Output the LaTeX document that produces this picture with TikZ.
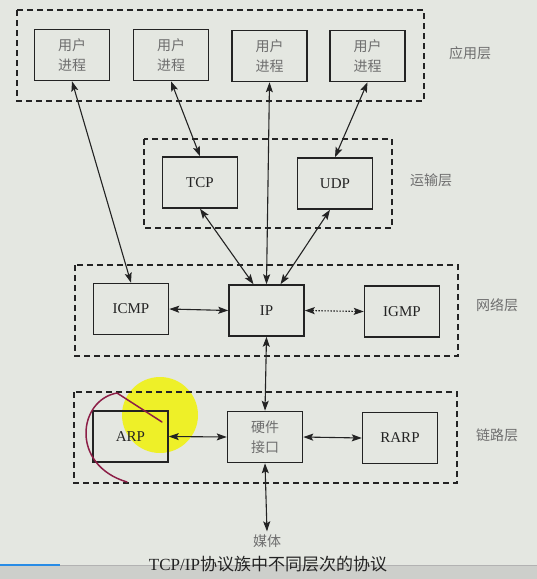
\documentclass[tikz,border=0pt]{standalone}
\usepackage{fontspec}
\setmainfont{Liberation Serif}
\newfontfamily\cjk{Noto Sans CJK SC}
\usetikzlibrary{arrows.meta}
\definecolor{sfondo}{RGB}{228,231,225}
\definecolor{fondo}{RGB}{205,207,203}
\definecolor{linea}{RGB}{35,35,35}
\definecolor{grigio}{RGB}{110,110,110}
\definecolor{evid}{RGB}{238,240,40}
\definecolor{penna}{RGB}{140,30,70}
\definecolor{barra}{RGB}{40,140,230}

\begin{document}
\begin{tikzpicture}[x=1pt,y=-1pt,font=\fontsize{15}{17}\selectfont,
  box/.style={draw=linea,line width=1.5pt,minimum width=75pt,minimum height=51pt,inner sep=0pt,text=linea},
  strato/.style={draw=linea,line width=1.5pt,dash pattern=on 6pt off 4pt},
  freccia/.style={{Stealth[length=10pt,width=7pt,inset=2pt]}-{Stealth[length=10pt,width=7pt,inset=2pt]},line width=1.1pt,draw=linea},
  cn/.style={text=grigio,font=\cjk\fontsize{14}{20}\selectfont,align=center}]

\useasboundingbox[fill=sfondo] (0,0) rectangle (537,579);

%barra in basso
\fill[fondo] (0,566) rectangle (537,579);
\draw[gray!60,line width=1pt] (60,565) -- (537,565);
\draw[barra,line width=2pt] (0,565) -- (60,565);

%evidenziatore
\fill[evid] (160,415) circle (38);

%livelli
\draw[strato] (17,10) rectangle (424,101);
\draw[strato] (144,139) rectangle (392,228);
\draw[strato] (75,265) rectangle (458,356);
\draw[strato] (74,392) rectangle (457,483);

\node[cn] at (470,53) {应用层};
\node[cn] at (431,180) {运输层};
\node[cn] at (497,305) {网络层};
\node[cn] at (497,435) {链路层};

%processi utente
\node[box,cn] (p1) at (72,55) {用户\\进程};
\node[box,cn] (p2) at (171,55) {用户\\进程};
\node[box,cn] (p3) at (269.5,56) {用户\\进程};
\node[box,cn] (p4) at (367.5,56) {用户\\进程};

\node[box] (tcp) at (200,182.5) {TCP};
\node[box] (udp) at (335,183.5) {UDP};

\node[box] (icmp) at (131,309) {ICMP};
\node[box] (ip) at (266.5,310.5) {IP};
\node[box] (igmp) at (402,311.5) {IGMP};

\node[box] (arp) at (130.5,436.5) {ARP};
\node[box,cn] (hw) at (265,437) {硬件\\接口};
\node[box] (rarp) at (400,438) {RARP};

\node[cn,inner sep=3pt] (mezzo) at (267,541) {媒体};

%frecce
\draw[freccia] (p1.south) -- (icmp.north);
\draw[freccia] (p2.south) -- (tcp.north);
\draw[freccia] (p3.south) -- (ip.north);
\draw[freccia] (p4.south) -- (udp.north);
\draw[freccia] ([xshift=-13pt]ip.north) -- (tcp.south);
\draw[freccia] ([xshift=14pt]ip.north) -- ([xshift=-5pt]udp.south);

\draw[freccia] (icmp.east) -- (ip.west);
\draw[freccia,dash pattern=on 1.5pt off 1.5pt] (ip.east) -- (igmp.west);
\draw[freccia] (ip.south) -- (hw.north);
\draw[freccia] (arp.east) -- (hw.west);
\draw[freccia] (hw.east) -- (rarp.west);
\draw[freccia] (hw.south) -- (mezzo.north);

%segno a penna
\draw[penna,line width=1.5pt,line cap=round] (162,422) -- (117,393) .. controls (78,400) and (70,465) .. (127,482);

\node[text=linea,font=\fontsize{17}{19}\selectfont] (didascalia) at (268,564) {TCP/IP{\cjk 协议族中不同层次的协议}};

\end{tikzpicture}
\end{document}
